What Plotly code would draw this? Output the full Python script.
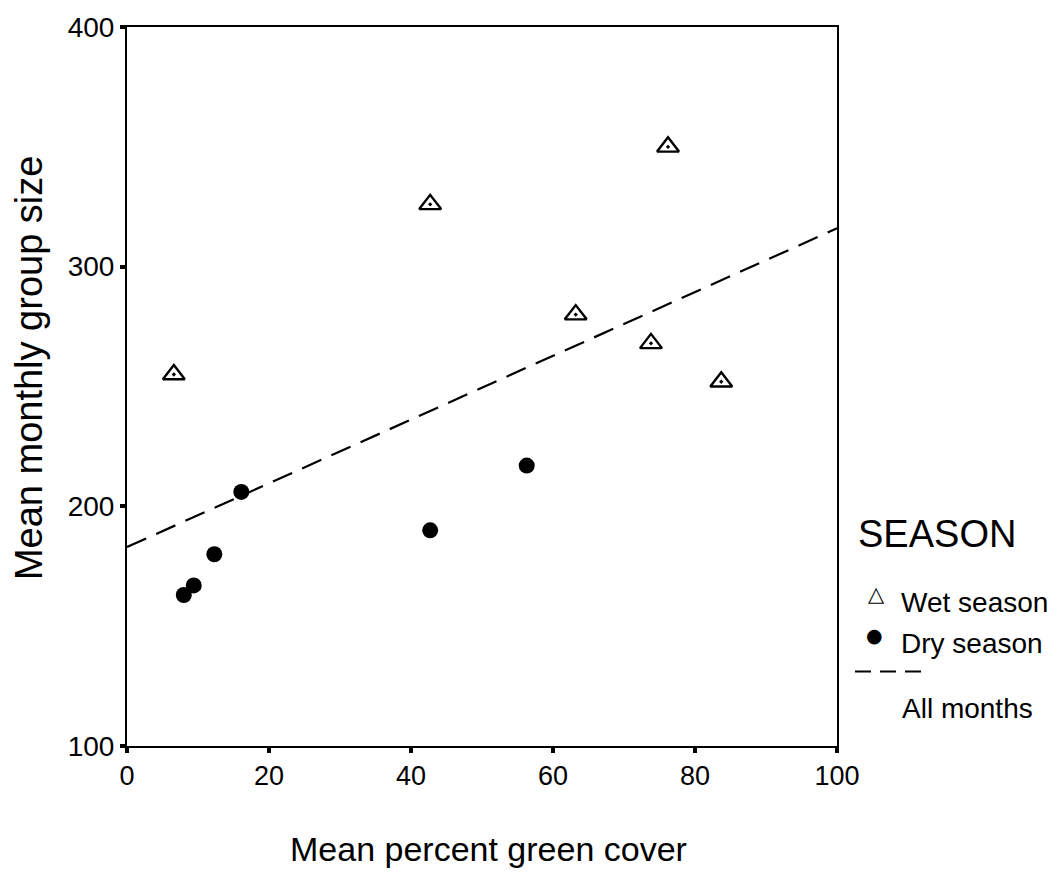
import plotly.graph_objects as go

# Wet season months: mean percent green cover vs. mean monthly group size
wet_cover = [6.6, 42.7, 63.2, 73.8, 76.2, 83.7]
wet_size = [255, 326, 280, 268, 350, 252]

# Dry season months
dry_cover = [8.0, 9.4, 12.3, 16.1, 42.7, 56.3]
dry_size = [163, 167, 180, 206, 190, 217]

# Linear trend over all months (endpoints of the fitted line)
trend_cover = [0, 100]
trend_size = [183, 316]

x_ticks = [0, 20, 40, 60, 80, 100]
y_ticks = [100, 200, 300, 400]

FONT = "Liberation Sans, Arial, sans-serif"

fig = go.Figure()

fig.add_trace(go.Scatter(
    x=trend_cover, y=trend_size, mode="lines",
    line=dict(color="black", width=2.2, dash="21px,11px"),
    showlegend=False, hoverinfo="skip",
))
fig.add_trace(go.Scatter(
    x=wet_cover, y=wet_size, mode="markers",
    marker=dict(symbol="triangle-up-open-dot", size=19, color="black",
                line=dict(color="black", width=2.4)),
    showlegend=False,
))
fig.add_trace(go.Scatter(
    x=dry_cover, y=dry_size, mode="markers",
    marker=dict(symbol="circle", size=16, color="black"),
    showlegend=False,
))

fig.update_layout(
    width=1053, height=878,
    margin=dict(l=127, r=216, t=23, b=132),
    paper_bgcolor="white", plot_bgcolor="white",
    font=dict(family=FONT, color="black"),
    xaxis=dict(
        range=[0, 100], tickvals=x_ticks, ticks="outside", ticklen=5,
        tickwidth=4, tickcolor="black", showline=True, linecolor="black",
        linewidth=2, mirror=True, showgrid=False, zeroline=False,
        tickfont=dict(family=FONT, size=27),
    ),
    yaxis=dict(
        range=[100, 400], tickvals=y_ticks, ticks="outside", ticklen=5,
        tickwidth=4, tickcolor="black", showline=True, linecolor="black",
        linewidth=2, mirror=True, showgrid=False, zeroline=False,
        tickfont=dict(family=FONT, size=28),
    ),
)

# Pixel positions in the 1053x878 figure mapped to paper coordinates
def px(xp):
    return (xp - 127) / 710

def py(yp):
    return (746 - yp) / 723

# Axis titles
fig.add_annotation(x=px(488), y=py(850), xref="paper", yref="paper",
                   text="Mean percent green cover", showarrow=False,
                   xanchor="center", yanchor="middle",
                   font=dict(family=FONT, size=34))
fig.add_annotation(x=px(29), y=py(366), xref="paper", yref="paper",
                   text="Mean monthly group size", showarrow=False,
                   textangle=-90, xanchor="center", yanchor="middle",
                   font=dict(family=FONT, size=38))

# Legend beside the plot area
fig.add_annotation(x=px(856), y=py(533), xref="paper", yref="paper",
                   text="SEASON", showarrow=False, xanchor="left",
                   yanchor="middle", font=dict(family=FONT, size=38))
fig.add_annotation(x=px(876), y=py(593), xref="paper", yref="paper",
                   text="△", showarrow=False, xanchor="center",
                   yanchor="middle", font=dict(family="DejaVu Sans", size=21))
fig.add_annotation(x=px(899), y=py(602), xref="paper", yref="paper",
                   text="Wet season", showarrow=False, xanchor="left",
                   yanchor="middle", font=dict(family=FONT, size=28))
fig.add_annotation(x=px(874), y=py(634), xref="paper", yref="paper",
                   text="●", showarrow=False, xanchor="center",
                   yanchor="middle", font=dict(family="DejaVu Sans", size=19))
fig.add_annotation(x=px(899), y=py(643), xref="paper", yref="paper",
                   text="Dry season", showarrow=False, xanchor="left",
                   yanchor="middle", font=dict(family=FONT, size=28))
fig.add_shape(type="line", xref="paper", yref="paper",
              x0=px(855), x1=px(922), y0=py(671), y1=py(671),
              line=dict(color="black", width=2, dash="16px,9px"))
fig.add_annotation(x=px(900), y=py(708), xref="paper", yref="paper",
                   text="All months", showarrow=False, xanchor="left",
                   yanchor="middle", font=dict(family=FONT, size=28))

fig.write_html("out.html")
